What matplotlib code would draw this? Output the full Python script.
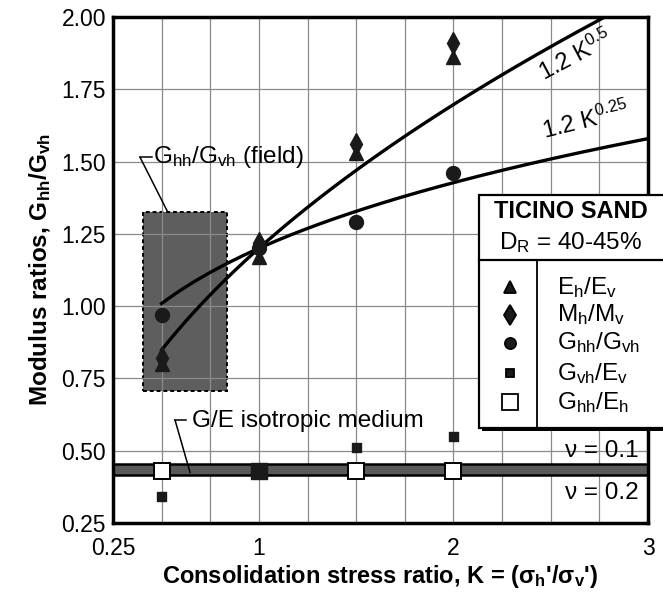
import matplotlib
matplotlib.use("Agg")
import matplotlib.pyplot as plt
from matplotlib.patches import Rectangle
import numpy as np

plt.rcParams["font.family"] = ["Liberation Sans", "DejaVu Sans"]
plt.rcParams["mathtext.fontset"] = "custom"
plt.rcParams["mathtext.rm"] = "Liberation Sans"
plt.rcParams["mathtext.it"] = "Liberation Sans"
plt.rcParams["mathtext.bf"] = "Liberation Sans:bold"
plt.rcParams["mathtext.default"] = "regular"

# consolidation stress ratios tested
K = [0.5, 1.0, 1.5, 2.0]
eh_ev = [0.80, 1.17, 1.53, 1.86]      # triangles
mh_mv = [0.82, 1.22, 1.56, 1.91]      # diamonds
ghh_gvh = [0.97, 1.20, 1.29, 1.46]    # circles
gvh_ev = [0.34, 0.43, 0.51, 0.55]     # small filled squares
K_open = [0.5, 1.5, 2.0]
ghh_eh = [0.43, 0.43, 0.43]           # open squares

# fitted curves, labelled on the chart as 1.2 K^n
fit_coef = 1.2
fit_exps = [0.5, 0.25]

# isotropic G/E = 1 / (2 (1 + nu))
nu = [0.1, 0.2]

# field range of Ghh/Gvh (box)
field_K = [0.404, 0.836]
field_ratio = [0.708, 1.324]

FS = 17.5  # annotation text size

fig = plt.figure(figsize=(6.63, 5.94), dpi=100)
ax = fig.add_axes([0.1704, 0.1195, 0.807, 0.8519])
ax.set_xlim(0.25, 3)
ax.set_ylim(0.25, 2.0)

ax.set_xticks([0.25, 1, 2, 3])
ax.set_xticklabels(["0.25", "1", "2", "3"])
ax.set_xticks(np.arange(0.25, 3.01, 0.25), minor=True)
ax.set_yticks(np.arange(0.25, 2.01, 0.25))
ax.set_yticklabels([f"{v:.2f}" for v in np.arange(0.25, 2.01, 0.25)])
ax.tick_params(which="both", length=0, labelsize=16.5)
ax.tick_params(axis="x", pad=10)
ax.tick_params(axis="y", pad=5)
ax.set_axisbelow(True)
ax.grid(True, which="both", color="#8a8a8a", lw=0.9)
for s in ax.spines.values():
    s.set_linewidth(2.5)
    s.set_zorder(6)

# field box
ax.add_patch(Rectangle((field_K[0], field_ratio[0]), field_K[1] - field_K[0],
                       field_ratio[1] - field_ratio[0], fc="#5e5e5e", ec="black",
                       lw=1.4, ls=(0, (2, 1.5)), zorder=0.4))

# isotropic band
band = [1 / (2 * (1 + n)) for n in nu]
ax.axhspan(min(band), max(band), fc="#595959", ec="black", lw=1.8, zorder=2)

# fitted curves
kk = np.linspace(0.5, 3, 300)
for e in fit_exps:
    ax.plot(kk, fit_coef * kk ** e, color="black", lw=2.4, zorder=3)

# data points
ax.plot(K, eh_ev, ls="none", marker="^", ms=10, color="#1a1a1a", zorder=4)
ax.plot(K, mh_mv, ls="none", marker="d", ms=11, color="#1a1a1a", zorder=4)
ax.plot(K, ghh_gvh, ls="none", marker="o", ms=10, color="#1a1a1a", zorder=4)
ax.scatter(K, gvh_ev, marker="s", s=[42, 120, 42, 42], color="#1a1a1a", zorder=4)
ax.plot(K_open, ghh_eh, ls="none", marker="s", ms=12, mfc="white", mec="black",
        mew=1.4, zorder=5)

# annotations
ax.text(0.456, 1.515, r"$G_{hh}/G_{vh}$ (field)", fontsize=FS, va="center", ha="left")
ax.plot([0.389, 0.45], [1.515, 1.515], color="black", lw=1.1, zorder=3)
ax.plot([0.389, 0.528], [1.515, 1.33], color="black", lw=1.1, zorder=3)

ax.text(0.656, 0.604, "G/E isotropic medium", fontsize=FS, va="center", ha="left")
ax.plot([0.569, 0.625], [0.606, 0.606], color="black", lw=1.1, zorder=3)
ax.plot([0.569, 0.646], [0.606, 0.425], color="black", lw=1.1, zorder=3)

ax.text(2.63, 1.865, r"1.2 K$^{0.5}$", fontsize=17, rotation=28, ha="center",
        va="center", rotation_mode="anchor")
ax.text(2.68, 1.64, r"1.2 K$^{0.25}$", fontsize=17, rotation=14, ha="center",
        va="center", rotation_mode="anchor")

ax.text(2.95, 0.50, "\u03bd = 0.1", fontsize=FS, ha="right", va="center", zorder=5)
ax.text(2.95, 0.355, "\u03bd = 0.2", fontsize=FS, ha="right", va="center", zorder=5)

# legend box (axes coordinates, extends past the right spine)
L, T, B, R = 0.684, 0.648, 0.188, 1.06
tr = ax.transAxes
ax.add_patch(Rectangle((L + 0.006, B - 0.007), R - L, T - B, transform=tr,
                       fc="black", ec="none", clip_on=False, zorder=7))
ax.add_patch(Rectangle((L, B), R - L, T - B, transform=tr, fc="white", ec="black",
                       lw=1.6, clip_on=False, zorder=8))
ax.plot([L, R], [0.52, 0.52], transform=tr, color="black", lw=1.6, clip_on=False, zorder=9)
ax.plot([0.7925, 0.7925], [B, 0.52], transform=tr, color="black", lw=1.3,
        clip_on=False, zorder=9)
ax.text(0.856, 0.615, "TICINO SAND", transform=tr, fontsize=17, fontweight="bold",
        ha="center", va="center", zorder=10)
ax.text(0.856, 0.555, r"$D_R$ = 40-45%", transform=tr, fontsize=FS,
        ha="center", va="center", zorder=10)

leg_y = [0.466, 0.411, 0.356, 0.296, 0.239]
leg_labels = [r"$E_h/E_v$", r"$M_h/M_v$", r"$G_{hh}/G_{vh}$", r"$G_{vh}/E_v$", r"$G_{hh}/E_h$"]
leg_marks = [("^", 8, "#1a1a1a"), ("d", 10, "#1a1a1a"), ("o", 8, "#1a1a1a"),
             ("s", 6, "#1a1a1a"), ("s", 11, "white")]
for yy, lab, (m, ms, fc) in zip(leg_y, leg_labels, leg_marks):
    ax.plot([0.742], [yy], transform=tr, marker=m, ms=ms, mfc=fc, mec="black",
            mew=1.3, clip_on=False, zorder=10)
    ax.text(0.83, yy, lab, transform=tr, fontsize=FS, ha="left", va="center", zorder=10)

ax.set_xlabel(r"Consolidation stress ratio, K = ($\mathbf{\sigma_h}$'/$\mathbf{\sigma_v}$')",
              fontsize=17, fontweight="bold")
ax.xaxis.set_label_coords(0.5, -0.105)
ax.xaxis.label.set_va("center")
ax.set_ylabel(r"Modulus ratios, $\mathbf{G_{hh}/G_{vh}}$", fontsize=17.5,
              fontweight="bold", labelpad=6)

fig.savefig("out.png", dpi=100)
